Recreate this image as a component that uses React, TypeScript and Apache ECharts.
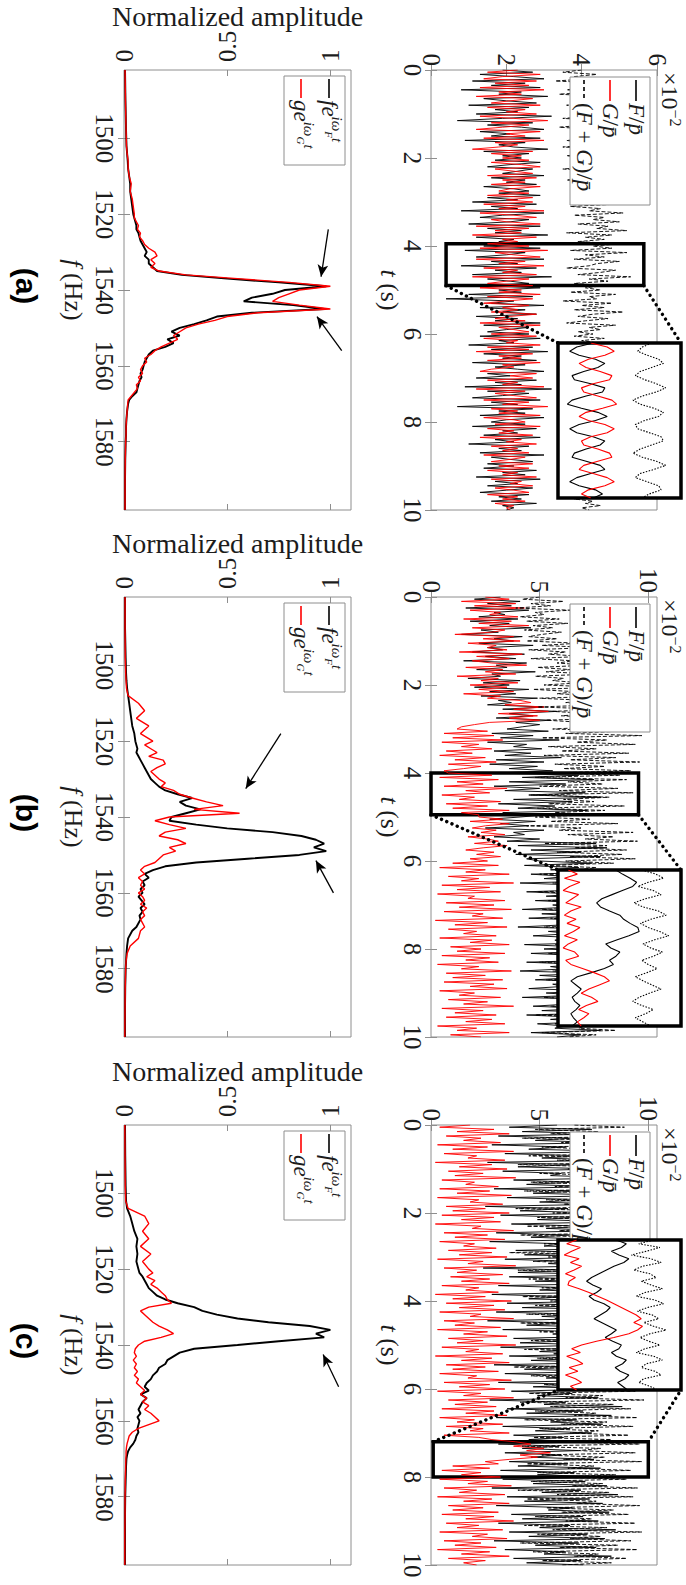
import React, { useEffect, useRef } from "react";
import * as echarts from "echarts";

const SERIF = "'Liberation Serif', 'Times New Roman', serif";
const SANS = "'Liberation Sans', Arial, sans-serif";
const INK = "#1c1c1c";
const BORDER = "#8e8e8e";
const RED = "#ff0000";
const PBAR = "p\u0304";

// ---------- time samples (s)
const TIME = [0,0.05,0.1,0.15,0.2,0.25,0.3,0.35,0.4,0.45,0.5,0.55,0.6,0.65,0.7,0.75,0.8,0.85,0.9,0.95,
1,1.05,1.1,1.15,1.2,1.25,1.3,1.35,1.4,1.45,1.5,1.55,1.6,1.65,1.7,1.75,1.8,1.85,1.9,1.95,
2,2.05,2.1,2.15,2.2,2.25,2.3,2.35,2.4,2.45,2.5,2.55,2.6,2.65,2.7,2.75,2.8,2.85,2.9,2.95,
3,3.05,3.1,3.15,3.2,3.25,3.3,3.35,3.4,3.45,3.5,3.55,3.6,3.65,3.7,3.75,3.8,3.85,3.9,3.95,
4,4.05,4.1,4.15,4.2,4.25,4.3,4.35,4.4,4.45,4.5,4.55,4.6,4.65,4.7,4.75,4.8,4.85,4.9,4.95,
5,5.05,5.1,5.15,5.2,5.25,5.3,5.35,5.4,5.45,5.5,5.55,5.6,5.65,5.7,5.75,5.8,5.85,5.9,5.95,
6,6.05,6.1,6.15,6.2,6.25,6.3,6.35,6.4,6.45,6.5,6.55,6.6,6.65,6.7,6.75,6.8,6.85,6.9,6.95,
7,7.05,7.1,7.15,7.2,7.25,7.3,7.35,7.4,7.45,7.5,7.55,7.6,7.65,7.7,7.75,7.8,7.85,7.9,7.95,
8,8.05,8.1,8.15,8.2,8.25,8.3,8.35,8.4,8.45,8.5,8.55,8.6,8.65,8.7,8.75,8.8,8.85,8.9,8.95,
9,9.05,9.1,9.15,9.2,9.25,9.3,9.35,9.4,9.45,9.5,9.55,9.6,9.65,9.7,9.75,9.8,9.85,9.9,9.95,10];

// ---------- (a) time series, x10^-2
const TS_A_F = [1.9,2.7,1.3,2.2,3.0,1.1,2.5,1.6,2.9,0.8,2.4,1.8,3.1,1.4,2.0,2.8,1.0,2.6,1.7,2.3,
1.2,3.2,1.9,0.7,2.7,1.5,2.4,3.0,1.3,2.1,1.6,2.9,0.9,2.5,1.8,2.2,3.1,1.4,2.6,1.9,
2.4,1.7,2.9,2.1,1.5,2.7,2.3,1.9,3.0,1.6,2.5,2.0,2.8,1.4,2.2,2.6,1.8,2.9,1.5,2.3,
1.1,2.8,1.6,2.3,0.8,3.0,1.9,1.3,2.6,2.1,1.0,2.9,1.5,2.4,1.7,3.1,1.2,2.2,1.8,2.7,
1.4,2.9,0.9,2.5,2.0,1.2,3.0,1.6,2.3,0.8,2.8,1.7,2.4,1.1,3.2,1.5,2.1,2.6,1.3,2.9,
1.8,2.4,1.0,2.7,0.4,2.2,1.6,3.0,1.3,2.5,1.9,2.8,1.2,2.3,1.7,2.9,1.4,2.6,2.0,1.5,
2.6,1.3,2.9,1.8,2.2,1.0,2.7,1.6,3.1,1.4,2.4,1.9,2.8,1.1,2.5,1.7,2.3,3.0,1.5,2.1,
1.2,2.8,1.7,2.4,0.9,3.2,1.5,2.6,1.9,1.1,2.9,1.6,2.3,0.7,2.7,1.8,2.5,1.3,3.0,2.0,
1.6,2.5,1.1,2.8,1.9,2.3,1.4,2.9,1.7,2.2,1.0,2.6,1.8,2.4,1.3,3.0,1.6,2.1,2.7,1.5,
2.2,1.4,2.8,1.9,2.5,1.2,2.9,1.7,2.3,1.5,2.7,2.0,1.3,2.6,1.8,2.4,1.6,2.8,1.9,2.2,2.0];
const TS_A_G = [2.3,1.5,2.9,1.9,1.4,2.8,1.7,2.6,1.3,3.0,1.8,2.4,1.2,2.7,2.1,1.6,2.9,1.5,2.5,2.0,
2.8,1.3,2.2,3.1,1.6,2.6,1.9,1.2,2.9,2.0,2.5,1.4,3.0,1.7,2.3,1.8,1.1,2.7,1.6,2.4,
1.9,2.6,1.6,2.4,2.9,1.7,2.2,2.7,1.5,2.8,1.9,2.5,1.6,2.9,2.1,1.8,2.6,1.5,2.7,2.0,
2.7,1.4,2.5,1.8,3.0,1.3,2.2,2.8,1.6,2.0,2.9,1.2,2.6,1.7,2.4,1.1,2.8,1.9,2.3,1.5,
2.6,1.3,3.1,1.7,2.2,2.9,1.2,2.5,1.8,3.0,1.4,2.3,1.9,2.8,1.1,2.6,2.0,1.5,2.7,1.3,
2.4,1.8,2.9,1.5,2.7,2.0,1.4,2.6,1.9,2.3,1.6,2.8,2.1,1.7,2.5,1.3,2.9,1.8,2.2,2.6,
1.6,2.8,1.4,2.3,2.0,2.9,1.5,2.6,1.2,2.7,1.8,2.4,1.5,2.9,1.9,2.2,1.6,1.3,2.8,2.1,
2.7,1.5,2.3,1.9,3.0,1.2,2.5,1.7,2.2,2.8,1.4,2.6,1.9,3.1,1.6,2.3,1.8,2.9,1.4,2.2,
2.5,1.7,2.9,1.5,2.2,1.8,2.7,1.3,2.4,2.0,2.8,1.6,2.3,1.9,2.6,1.4,2.5,2.1,1.6,2.7,
1.8,2.6,1.5,2.3,1.9,2.8,1.6,2.4,2.1,2.7,1.7,2.2,2.6,1.5,2.3,1.9,2.5,1.7,2.2,2.0,2.1];
const TS_A_S = [4.0,3.5,4.4,3.8,4.2,3.3,4.6,3.9,4.1,3.6,4.3,3.4,4.5,3.7,4.0,4.4,3.6,4.2,3.8,4.5,
3.9,4.3,3.5,4.6,3.8,4.1,3.4,4.4,3.7,4.2,3.9,4.5,3.6,4.0,4.3,3.5,4.7,3.8,4.1,3.6,
4.2,3.7,4.5,3.9,4.3,3.5,4.6,4.0,3.8,4.4,3.6,4.7,4.1,3.9,4.5,3.7,4.8,4.2,3.8,4.6,
4.0,4.9,3.7,4.5,4.2,5.1,3.8,4.6,4.3,5.0,3.9,4.7,4.4,5.2,3.6,4.8,4.1,4.6,3.9,5.0,
4.3,4.8,3.7,5.2,4.1,4.6,3.8,5.0,4.4,4.2,3.6,4.9,4.5,3.9,5.3,4.2,4.7,3.8,4.6,4.1,
4.5,3.7,4.9,4.2,4.4,3.5,4.8,4.0,4.6,3.8,5.1,4.3,3.9,4.7,4.1,3.6,4.9,4.2,4.5,3.9,
4.3,3.8,4.6,4.0,4.4,3.6,4.7,4.1,4.2,3.9,4.8,4.0,4.5,3.7,4.6,4.2,3.9,4.4,4.1,3.8,
4.5,4.0,4.7,3.8,4.3,4.1,4.6,3.7,4.4,4.2,4.8,3.9,4.3,4.0,4.5,3.6,4.6,4.2,4.0,4.4,
3.9,4.6,4.1,4.3,3.7,4.7,4.0,4.5,3.8,4.4,4.2,4.6,3.9,4.1,4.5,3.8,4.7,4.0,4.3,4.1,
4.4,3.9,4.6,4.2,4.0,4.5,3.8,4.3,4.1,4.7,3.9,4.4,4.2,4.0,4.6,3.8,4.3,4.1,4.5,4.0,4.2];

// ---------- (b) time series
const TS_B_F = [3.2,2.0,4.1,2.6,3.7,1.6,4.5,2.9,3.4,2.2,4.0,1.8,3.6,2.7,4.6,2.3,3.1,1.4,4.2,2.9,
3.8,2.2,4.7,2.6,3.3,1.9,4.3,2.5,3.9,1.5,4.4,3.0,3.5,2.1,4.8,2.8,3.2,1.7,4.1,2.4,
3.6,2.0,4.5,2.7,3.9,2.3,4.9,3.1,3.7,2.6,5.2,3.3,5.8,3.6,4.7,3.0,5.5,3.9,5.0,4.2,
3.5,5.4,2.8,4.7,3.2,5.9,2.6,4.4,3.8,5.1,2.9,4.6,3.4,6.0,3.0,5.2,2.7,4.9,3.6,5.6,
3.0,6.8,4.2,7.5,3.6,6.2,2.9,5.0,3.4,7.1,4.5,7.8,3.8,6.5,3.1,5.7,4.0,7.2,3.3,5.3,
4.1,2.7,4.8,3.2,4.5,2.5,5.2,3.8,4.3,2.9,5.0,3.5,7.6,4.0,8.1,4.6,6.9,3.9,7.8,4.4,
5.0,7.4,4.3,6.8,5.5,7.9,4.6,6.3,5.2,8.0,4.1,6.9,5.8,7.5,4.4,6.6,5.3,8.2,4.8,7.1,
5.6,6.4,4.2,7.7,5.1,6.7,4.5,7.3,5.9,6.2,4.0,7.8,5.4,6.5,4.7,7.2,5.7,8.1,4.3,6.8,
5.2,7.6,4.6,6.9,5.8,8.0,4.4,7.0,5.5,6.3,4.1,7.5,5.0,6.6,4.8,7.9,5.6,6.1,4.5,7.3,
5.3,6.8,4.2,7.7,5.9,6.4,4.7,7.1,5.1,8.2,4.4,6.7,5.5,7.4,4.9,6.2,5.7,7.8,4.6,6.9,5.8];
const TS_B_G = [2.5,3.6,1.4,3.9,2.0,4.3,1.8,3.2,2.7,4.0,1.5,3.7,2.2,4.5,1.9,3.4,2.8,1.1,3.8,2.4,
4.1,1.7,3.0,2.6,3.5,1.3,4.2,2.1,3.6,1.9,2.8,4.4,1.6,3.3,2.5,3.9,1.2,3.1,2.3,4.0,
1.8,3.5,2.2,3.8,1.5,3.2,2.6,4.1,4.6,3.4,5.2,3.8,5.4,3.1,4.9,3.6,5.0,2.7,2.0,1.4,
1.2,2.6,0.6,2.9,1.0,3.3,0.5,2.2,1.4,2.8,0.7,1.9,0.4,2.5,1.1,3.0,0.8,2.3,1.5,0.6,
0.8,2.8,0.4,3.1,1.2,2.4,0.6,3.5,1.6,2.7,0.5,2.0,1.3,3.2,0.7,2.6,1.0,3.6,1.4,2.2,
2.2,3.3,1.8,3.6,2.5,1.9,3.0,2.3,3.4,1.7,2.6,3.1,2.0,3.5,2.4,1.6,2.9,2.1,3.2,1.8,
2.6,1.0,3.1,0.4,2.5,1.6,3.6,0.8,2.2,1.4,3.8,0.5,2.7,1.2,3.2,0.3,2.0,1.7,3.4,0.7,
2.9,1.3,3.7,0.6,2.4,1.9,3.3,0.2,2.6,1.1,3.5,0.8,2.1,1.5,3.0,0.4,2.8,1.8,3.6,0.9,
2.3,1.2,3.4,0.5,2.7,1.6,3.1,0.3,2.2,1.4,3.7,0.7,2.5,1.0,3.3,0.6,2.9,1.8,3.5,0.4,
2.0,1.3,3.2,0.8,2.6,1.5,3.8,0.5,2.4,1.1,3.0,0.7,2.8,1.6,3.4,0.3,2.1,1.2,3.6,0.9,2.3];
const TS_B_S = [5.0,4.2,6.1,4.6,5.5,3.9,6.4,4.8,5.2,4.1,5.9,4.4,6.3,4.7,5.6,4.3,6.0,5.1,4.5,5.8,
4.4,6.8,5.1,7.4,4.5,6.2,5.4,7.0,4.6,6.6,5.8,7.2,4.9,6.4,5.3,7.5,4.8,6.1,5.6,6.9,
5.2,7.9,4.7,6.6,5.8,8.3,5.0,7.1,6.2,7.8,4.9,8.1,5.6,7.4,6.0,8.5,5.3,7.0,6.4,7.7,
5.6,8.8,6.2,9.7,5.1,8.1,6.7,9.4,5.4,7.6,6.0,9.1,5.2,8.5,6.4,9.6,5.7,8.0,6.1,9.2,
5.5,8.7,4.8,9.0,6.3,7.9,5.0,8.6,5.9,9.3,4.6,8.2,6.1,7.5,5.4,8.9,4.9,8.0,5.7,7.4,
4.8,7.3,5.5,8.6,4.4,6.9,5.9,9.3,6.3,8.4,7.1,9.5,5.2,8.1,6.6,9.0,5.8,8.8,6.4,9.4,
6.2,8.4,5.3,7.6,6.8,8.9,5.0,7.2,6.5,8.7,5.6,7.9,6.1,8.5,4.9,7.4,6.6,9.0,5.4,7.8,
6.3,8.2,5.1,7.5,6.9,8.8,5.5,7.1,6.0,8.6,5.2,7.7,6.4,8.3,5.8,7.3,6.7,8.9,5.7,7.0,
6.5,8.5,5.4,7.8,6.1,9.1,5.0,7.4,6.8,8.2,5.6,7.6,6.3,8.7,5.3,7.2,6.9,8.4,5.9,7.5,
6.0,8.8,5.2,7.3,6.6,8.6,5.5,7.9,6.2,9.0,4.8,7.7,6.4,8.3,5.7,7.1,6.8,8.5,5.1,7.6,6.3];

// ---------- (c) time series
const TS_C_F = [5.8,3.6,7.4,4.2,8.1,3.1,6.5,4.8,7.9,2.8,6.2,4.5,8.6,3.4,7.0,5.1,8.3,2.6,6.8,4.0,
7.7,3.3,6.0,5.5,8.8,3.8,6.6,4.4,7.5,2.9,6.9,4.7,8.4,3.5,7.2,5.0,8.0,2.5,6.3,4.1,
7.8,3.2,6.7,4.9,8.5,3.7,7.1,5.3,8.2,3.0,6.4,4.6,7.6,2.7,6.1,5.2,8.7,3.9,7.3,4.3,
8.0,3.4,6.6,5.4,7.9,2.4,6.9,4.0,8.3,3.6,7.0,4.8,8.9,3.1,6.5,5.0,7.7,2.8,6.2,4.5,
8.1,3.5,7.4,4.2,8.6,3.0,6.8,5.1,7.5,2.6,6.3,4.4,8.0,3.3,7.2,5.6,8.4,3.8,6.7,4.1,
7.6,3.2,6.4,5.0,8.7,3.6,7.1,4.6,8.2,2.9,6.6,4.3,7.8,3.4,6.9,5.3,8.5,3.1,7.3,4.7,
8.0,3.7,6.5,4.9,7.7,2.7,6.2,5.2,8.8,3.5,7.0,4.4,8.3,3.0,6.7,5.5,7.9,3.3,6.4,4.8,
7.4,3.8,6.1,4.5,7.2,3.1,5.9,4.2,6.8,3.4,6.0,4.6,7.5,3.6,6.3,4.0,7.8,3.2,6.6,4.9,
8.4,3.3,7.1,4.7,8.1,2.8,6.9,5.1,8.6,3.5,7.3,4.3,7.9,3.0,6.5,5.4,8.2,3.7,7.0,4.2,
7.7,3.1,6.4,5.0,8.5,3.6,7.2,4.5,8.0,2.9,6.8,4.8,7.6,3.4,6.2,5.2,8.3,3.8,6.9,4.4,7.0];
const TS_C_G = [1.8,0.4,2.9,1.2,3.6,0.7,2.3,1.5,3.2,0.3,2.6,1.0,3.8,0.6,2.1,1.7,3.4,0.2,2.8,1.3,
3.5,0.8,2.4,1.1,3.9,0.5,2.0,1.6,3.1,0.4,2.7,1.2,3.7,0.3,2.2,1.8,3.3,0.7,2.5,1.0,
3.6,0.5,2.9,1.4,3.2,0.2,2.3,1.9,3.8,0.6,2.6,1.1,3.4,0.4,2.0,1.5,3.0,0.8,2.8,1.3,
3.5,0.3,2.4,1.7,3.9,0.6,2.1,1.2,3.3,0.9,2.7,1.4,3.6,0.5,2.2,1.6,3.1,0.2,2.5,1.0,
3.7,0.7,2.9,1.3,3.4,0.4,2.3,1.8,3.8,0.6,2.0,1.1,3.2,0.3,2.6,1.5,3.5,0.8,2.4,1.2,
3.9,0.5,2.2,1.6,3.3,0.2,2.8,1.4,3.6,0.7,2.5,1.0,3.1,0.4,2.1,1.7,3.7,0.6,2.7,1.3,
3.4,0.3,2.3,1.5,3.8,0.8,2.6,1.1,3.0,0.5,2.9,1.6,3.5,0.4,2.0,1.2,3.3,0.7,2.4,1.8,
3.6,0.6,2.2,2.8,3.9,4.6,3.8,5.2,4.4,5.5,4.1,4.9,3.6,2.5,3.1,1.0,2.7,0.5,2.3,1.4,
3.2,0.4,2.6,1.7,3.7,0.6,2.1,1.3,3.4,0.3,2.8,1.5,3.6,0.8,2.4,1.0,3.1,0.5,2.9,1.6,
3.8,0.7,2.2,1.2,3.3,0.4,2.6,1.9,3.5,0.6,2.3,1.1,3.0,0.3,2.7,1.4,3.6,0.8,2.5,1.5,2.1];
const TS_C_S = [6.6,8.9,4.8,7.7,5.5,9.4,4.2,8.1,6.0,9.7,5.1,7.4,6.8,9.0,4.5,8.5,5.8,9.6,4.0,7.9,
6.3,9.2,5.0,8.3,6.9,9.8,4.6,7.6,5.7,9.3,4.3,8.0,6.5,9.5,5.3,7.8,6.1,9.1,3.9,8.6,
5.6,9.4,4.9,7.5,6.7,9.7,4.4,8.2,5.9,9.0,4.1,7.7,6.4,9.6,5.2,8.4,6.2,9.2,3.6,7.3,
5.4,9.5,4.7,8.0,6.6,9.8,4.0,7.6,5.8,9.1,4.5,8.7,6.0,9.4,5.1,7.9,6.8,9.3,4.2,8.1,
5.5,9.0,4.8,7.4,6.3,9.6,4.4,8.5,5.7,9.2,4.1,7.8,6.5,9.4,5.0,8.3,6.1,8.8,4.6,7.5,
6.0,9.3,4.3,8.2,5.6,9.7,4.9,7.7,6.4,9.1,3.8,8.0,5.9,9.5,4.6,7.3,6.7,9.0,5.2,8.6,
5.8,9.4,4.5,7.9,6.2,9.8,4.1,8.4,5.5,9.2,4.8,7.6,6.6,9.5,4.3,8.1,6.0,9.3,5.0,7.7,
6.4,9.1,4.7,8.3,5.9,9.6,4.2,7.8,6.8,9.4,5.1,8.0,6.1,9.7,4.4,7.5,6.3,9.2,4.9,8.5,
5.7,9.0,4.6,7.9,6.5,9.5,4.0,8.2,5.8,9.3,4.4,7.6,6.7,9.6,5.3,8.4,6.0,9.1,4.8,7.4,
6.2,9.4,4.3,8.1,5.6,9.7,4.9,7.8,6.4,9.2,4.1,8.6,5.9,9.5,4.7,7.7,6.6,9.0,5.1,8.3,6.0];

// ---------- zoomed insets
const INSET_T_A = [3.95,3.975,4,4.025,4.05,4.075,4.1,4.125,4.15,4.175,4.2,4.225,4.25,4.275,4.3,4.325,4.35,4.375,4.4,4.425,4.45,4.475,4.5,4.525,4.55,4.575,4.6,4.625,4.65,4.675,4.7,4.725,4.75,4.775,4.8,4.825,4.85,4.875,4.9];
const IN_A_F = [1.9,1.2,0.9,1.3,2.0,2.4,2.1,1.5,1.0,1.1,1.8,2.4,2.3,1.6,1.0,0.8,1.4,2.1,2.5,2.0,1.3,0.9,1.2,1.9,2.4,2.2,1.6,1.1,1.0,1.6,2.2,2.4,1.8,1.2,0.9,1.3,2.0,2.3,1.9];
const IN_A_G = [1.8,2.5,2.8,2.4,1.7,1.3,1.6,2.2,2.7,2.6,1.9,1.4,1.5,2.1,2.7,2.9,2.3,1.6,1.3,1.7,2.4,2.8,2.5,1.8,1.4,1.5,2.1,2.6,2.7,2.1,1.5,1.3,1.9,2.5,2.8,2.4,1.7,1.4,1.8];
const IN_A_S = [4.4,4.0,3.8,4.2,4.7,4.9,4.4,3.9,3.7,4.1,4.6,5.0,4.6,4.0,3.6,3.9,4.5,4.9,4.7,4.1,3.7,3.8,4.3,4.8,4.9,4.4,3.9,3.6,4.0,4.6,5.0,4.5,3.9,3.7,4.2,4.7,4.8,4.3,4.0];

const INSET_T_B = [4,4.025,4.05,4.075,4.1,4.125,4.15,4.175,4.2,4.225,4.25,4.275,4.3,4.325,4.35,4.375,4.4,4.425,4.45,4.475,4.5,4.525,4.55,4.575,4.6,4.625,4.65,4.675,4.7,4.725,4.75,4.775,4.8,4.825,4.85,4.875,4.9,4.925,4.95];
const IN_B_F = [4.5,5.0,5.6,6.1,5.8,5.0,4.2,3.4,3.0,3.3,4.0,4.8,5.1,5.6,6.2,6.3,5.5,4.6,3.7,4.1,4.8,4.5,4.0,4.3,3.6,2.6,1.5,1.0,1.4,1.8,1.5,1.1,1.3,1.7,1.4,1.0,1.2,1.5,1.1];
const IN_B_G = [0.8,1.5,0.5,1.7,0.9,0.4,1.6,1.1,0.6,1.8,1.0,0.5,1.4,0.7,1.7,1.2,0.5,1.5,0.8,0.4,1.3,1.6,0.6,1.0,1.9,2.8,3.6,4.0,3.2,2.4,1.8,2.6,3.1,2.2,1.6,2.4,2.0,1.5,1.8];
const IN_B_S = [6.5,7.6,8.2,7.0,6.2,7.4,8.0,6.8,5.9,6.6,7.8,8.4,7.2,6.4,7.0,7.9,8.6,7.5,6.6,7.2,8.1,7.4,6.5,7.0,7.7,6.9,6.0,6.6,7.3,8.0,7.1,6.3,5.8,6.5,7.4,6.8,6.0,6.6,7.2];

const INSET_T_C = [7.2,7.22,7.24,7.26,7.28,7.3,7.32,7.34,7.36,7.38,7.4,7.42,7.44,7.46,7.48,7.5,7.52,7.54,7.56,7.58,7.6,7.62,7.64,7.66,7.68,7.7,7.72,7.74,7.76,7.78,7.8,7.82,7.84,7.86,7.88,7.9,7.92,7.94,7.96,7.98,8];
const IN_C_F = [4.8,5.6,5.2,4.4,5.0,5.8,5.4,4.6,4.0,3.4,2.8,2.4,2.9,3.6,3.2,2.6,3.0,3.8,4.3,4.0,3.5,3.0,3.6,4.2,4.8,4.4,3.9,4.5,5.2,5.0,4.4,4.8,5.6,5.3,4.7,5.1,5.8,5.5,4.9,5.3,5.7];
const IN_C_G = [1.6,0.8,1.9,1.2,0.6,1.8,1.1,2.0,1.4,0.7,1.5,1.0,0.9,1.8,2.6,3.3,4.0,4.6,5.2,5.8,6.4,6.8,6.2,6.9,6.5,5.8,4.6,3.2,2.0,1.2,1.9,0.8,1.6,2.1,1.0,1.7,0.7,1.5,2.0,1.1,1.6];
const IN_C_S = [7.8,6.6,8.3,7.2,6.0,7.6,8.4,6.9,6.2,7.5,8.0,6.8,7.6,8.5,7.1,6.4,7.9,8.6,7.3,6.5,7.7,8.2,7.0,7.8,8.8,7.5,6.7,7.4,8.3,7.1,6.4,7.8,8.5,7.2,6.8,7.9,8.4,7.0,6.6,7.5,8.1];

// ---------- spectra (Hz, normalized amplitude)
const FREQ = [1482,1490,1498,1502,1504,1506,1508,1510,1512,1514,1516,1518,1520,1521,1522,1523,1524,1525,1526,1527,1528,1529,1530,1531,1532,1533,1534,1535,1536,1537,1538,1539,1540,1541,1542,1543,1544,1545,1546,1547,1548,1549,1550,1551,1552,1553,1554,1555,1556,1557,1558,1559,1560,1561,1562,1563,1564,1565,1566,1567,1568,1569,1570,1572,1574,1576,1578,1580,1585,1590,1598];
const SP_A_F = [0.005,0.007,0.01,0.012,0.015,0.018,0.02,0.025,0.03,0.03,0.035,0.04,0.045,0.05,0.055,0.06,0.06,0.07,0.075,0.08,0.09,0.1,0.11,0.1,0.12,0.12,0.14,0.16,0.28,0.5,0.75,0.98,0.78,0.72,0.62,0.58,0.82,0.97,0.62,0.45,0.4,0.34,0.27,0.23,0.27,0.21,0.24,0.2,0.14,0.12,0.11,0.1,0.095,0.09,0.08,0.085,0.075,0.07,0.065,0.06,0.04,0.025,0.02,0.015,0.012,0.01,0.01,0.008,0.006,0.005,0.005];
const SP_A_G = [0.005,0.007,0.01,0.012,0.015,0.02,0.02,0.025,0.035,0.03,0.04,0.045,0.05,0.05,0.06,0.07,0.065,0.08,0.075,0.09,0.1,0.12,0.15,0.16,0.13,0.15,0.13,0.17,0.3,0.55,0.8,1.0,0.85,0.8,0.75,0.72,0.85,1.0,0.65,0.5,0.44,0.36,0.3,0.27,0.24,0.26,0.22,0.18,0.15,0.13,0.1,0.11,0.09,0.08,0.09,0.07,0.08,0.06,0.065,0.05,0.035,0.02,0.018,0.015,0.012,0.01,0.01,0.008,0.006,0.005,0.005];
const SP_B_F = [0.005,0.005,0.008,0.01,0.012,0.015,0.02,0.025,0.03,0.035,0.04,0.05,0.055,0.06,0.065,0.06,0.07,0.08,0.09,0.1,0.11,0.12,0.13,0.15,0.17,0.2,0.26,0.33,0.27,0.3,0.37,0.3,0.23,0.22,0.35,0.5,0.72,0.86,0.93,0.97,0.92,0.98,0.85,0.6,0.35,0.2,0.14,0.1,0.12,0.09,0.1,0.08,0.09,0.07,0.085,0.1,0.08,0.09,0.075,0.08,0.07,0.06,0.04,0.02,0.015,0.012,0.01,0.008,0.006,0.005,0.005];
const SP_B_G = [0.005,0.005,0.006,0.008,0.01,0.012,0.02,0.07,0.1,0.06,0.12,0.08,0.14,0.1,0.13,0.16,0.12,0.19,0.2,0.16,0.13,0.15,0.17,0.2,0.18,0.24,0.27,0.33,0.4,0.48,0.34,0.56,0.22,0.15,0.22,0.3,0.2,0.17,0.26,0.3,0.22,0.25,0.19,0.17,0.15,0.1,0.08,0.1,0.07,0.09,0.08,0.1,0.07,0.09,0.1,0.08,0.11,0.09,0.1,0.08,0.09,0.1,0.08,0.07,0.03,0.015,0.01,0.008,0.006,0.005,0.004];
const SP_C_F = [0.005,0.006,0.008,0.01,0.015,0.03,0.04,0.05,0.065,0.06,0.065,0.06,0.07,0.075,0.09,0.1,0.11,0.12,0.14,0.16,0.2,0.26,0.34,0.38,0.45,0.55,0.7,0.9,1.0,0.93,0.97,0.75,0.55,0.34,0.27,0.24,0.21,0.2,0.17,0.16,0.14,0.13,0.11,0.1,0.12,0.08,0.11,0.09,0.08,0.07,0.08,0.065,0.075,0.07,0.065,0.07,0.06,0.055,0.045,0.03,0.02,0.015,0.012,0.01,0.009,0.008,0.007,0.006,0.005,0.005,0.005];
const SP_C_G = [0.004,0.005,0.006,0.008,0.02,0.1,0.12,0.09,0.12,0.08,0.13,0.09,0.12,0.14,0.11,0.15,0.13,0.16,0.18,0.2,0.21,0.23,0.12,0.08,0.1,0.12,0.14,0.17,0.21,0.24,0.18,0.1,0.07,0.055,0.05,0.06,0.045,0.06,0.05,0.065,0.05,0.07,0.06,0.08,0.1,0.08,0.11,0.09,0.12,0.1,0.13,0.15,0.17,0.12,0.07,0.04,0.025,0.02,0.015,0.012,0.01,0.01,0.009,0.008,0.007,0.006,0.006,0.005,0.005,0.004,0.004];

// arrows: [[amp, freq] start, [amp, freq] end]
const ARROWS_A = [[[0.99, 1524], [0.955, 1536.5]], [[1.055, 1556], [0.935, 1547]]];
const ARROWS_B = [[[0.76, 1518], [0.59, 1532.5]], [[1.015, 1560], [0.93, 1551.5]]];
const ARROWS_C = [[[1.04, 1551], [0.965, 1542.5]]];

// ticks
const AMP_TICKS = [0, 0.5, 1];
const FREQ_TICKS = [1500, 1520, 1540, 1560, 1580];
const T_TICKS = [0, 2, 4, 6, 8, 10];
const VAL_TICKS_A = [0, 2, 4, 6];
const VAL_TICKS_BC = [0, 5, 10];

// ---------- layout
const COL_TOP = [70, 597, 1125];
const BOX_H = 440;
const SPEC = { left: 124, width: 227 };
const TBOX = { left: 431, width: 226 };
const INSET = { left: 558, width: 123 };
const INSET_TOPS = [343, 870, 1240];
const INSET_HS = [155, 156, 150];

const PANELS = [
  { label: "(a)", vmax: 6, vticks: VAL_TICKS_A, F: TS_A_F, G: TS_A_G, S: TS_A_S, sF: SP_A_F, sG: SP_A_G, arrows: ARROWS_A, rx: [0.4, 5.65], rt: [3.95, 4.9], it: INSET_T_A, iF: IN_A_F, iG: IN_A_G, iS: IN_A_S, above: false },
  { label: "(b)", vmax: 10.4, vticks: VAL_TICKS_BC, F: TS_B_F, G: TS_B_G, S: TS_B_S, sF: SP_B_F, sG: SP_B_G, arrows: ARROWS_B, rx: [0, 9.55], rt: [4.0, 4.95], it: INSET_T_B, iF: IN_B_F, iG: IN_B_G, iS: IN_B_S, above: false },
  { label: "(c)", vmax: 10.4, vticks: VAL_TICKS_BC, F: TS_C_F, G: TS_C_G, S: TS_C_S, sF: SP_C_F, sG: SP_C_G, arrows: ARROWS_C, rx: [0.1, 10.0], rt: [7.2, 8.0], it: INSET_T_C, iF: IN_C_F, iG: IN_C_G, iS: IN_C_S, above: true },
];

const plain = (v: number) => String(v);
const labelBase = { fontFamily: SERIF, fontSize: 25, color: INK };
const tickStyle = (vals: number[]) => ({ show: true, inside: true, length: 6, customValues: vals, lineStyle: { color: BORDER, width: 1 } });
const mirrorAxis = (g: number, pos: string, min: number, max: number, vals: number[], inverse = false) => ({
  gridIndex: g, type: "value", position: pos, min, max, inverse,
  axisLine: { show: false }, splitLine: { show: false }, axisLabel: { show: false }, axisTick: tickStyle(vals),
});

function timeLegend(px: number, py: number) {
  const Lw = 128, Lh = 80;
  const rows = [
    { ly: 14, color: "#000", dash: null as any, text: `{i|F}/{i|${PBAR}}` },
    { ly: 40, color: RED, dash: null as any, text: `{i|G}/{i|${PBAR}}` },
    { ly: 66, color: "#000", dash: [4, 3], text: `({i|F} + {i|G})/{i|${PBAR}}` },
  ];
  const rich = { i: { fontFamily: SERIF, fontStyle: "italic", fontSize: 23, fill: INK } };
  return {
    type: "group", x: px, y: py, rotation: -Math.PI / 2,
    children: [
      { type: "rect", z: 4, shape: { x: 0, y: 0, width: Lw, height: Lh }, style: { fill: "#fff", stroke: BORDER, lineWidth: 1 } },
      ...rows.flatMap((r) => [
        { type: "line", z: 4, shape: { x1: 3, y1: r.ly, x2: 24, y2: r.ly }, style: { stroke: r.color, lineWidth: 1.6, lineDash: r.dash } },
        { type: "text", z: 4, x: 26, y: r.ly, style: { text: r.text, fontFamily: SERIF, fontSize: 23, fill: INK, align: "left", verticalAlign: "middle", textAlign: "left", textVerticalAlign: "middle", rich } },
      ]),
    ],
  };
}

function specLegend(px: number, py: number) {
  const Lw = 89, Lh = 61;
  const rich = {
    b: { fontFamily: SERIF, fontStyle: "italic", fontSize: 23, lineHeight: 30, fill: INK },
    s: { fontFamily: SERIF, fontStyle: "italic", fontSize: 15, lineHeight: 15, verticalAlign: "top", fill: INK },
    ss: { fontFamily: SERIF, fontStyle: "italic", fontSize: 11, lineHeight: 11, verticalAlign: "middle", fill: INK },
  };
  const rows = [
    { ly: 16, color: "#000", text: "{b|fe}{s|iω}{ss|F}{s|t}" },
    { ly: 44, color: RED, text: "{b|ge}{s|iω}{ss|G}{s|t}" },
  ];
  return {
    type: "group", x: px, y: py, rotation: -Math.PI / 2,
    children: [
      { type: "rect", z: 4, shape: { x: 0, y: 0, width: Lw, height: Lh }, style: { fill: "#fff", stroke: BORDER, lineWidth: 1 } },
      ...rows.flatMap((r) => [
        { type: "line", z: 4, shape: { x1: 3, y1: r.ly, x2: 22, y2: r.ly }, style: { stroke: r.color, lineWidth: 1.6 } },
        { type: "text", z: 4, x: 24, y: r.ly, style: { text: r.text, fontFamily: SERIF, fontSize: 23, fill: INK, align: "left", verticalAlign: "middle", textAlign: "left", textVerticalAlign: "middle", rich } },
      ]),
    ],
  };
}

function buildOption() {
  const grid: any[] = [], xAxis: any[] = [], yAxis: any[] = [], series: any[] = [], graphic: any[] = [];
  const timeAxes: number[][] = [];

  PANELS.forEach((p, i) => {
    const top = COL_TOP[i];

    // ---- spectrum
    const gS = grid.length;
    grid.push({ left: SPEC.left, top, width: SPEC.width, height: BOX_H, show: true, borderColor: BORDER, borderWidth: 1, backgroundColor: "#fff" });
    const xS = xAxis.length;
    xAxis.push({
      gridIndex: gS, type: "value", position: "top", min: 0, max: 1.1,
      name: "Normalized amplitude", nameLocation: "middle", nameGap: 40, nameMoveOverlap: false,
      nameTextStyle: { fontFamily: SERIF, fontSize: 28, color: INK },
      axisLine: { show: false }, splitLine: { show: false }, axisTick: tickStyle(AMP_TICKS),
      axisLabel: { ...labelBase, customValues: AMP_TICKS, rotate: -90, margin: 8, hideOverlap: false, formatter: plain },
    });
    xAxis.push(mirrorAxis(gS, "bottom", 0, 1.1, AMP_TICKS));
    const yS = yAxis.length;
    yAxis.push({
      gridIndex: gS, type: "value", position: "left", inverse: true, min: 1482, max: 1598,
      name: "{i|f} (Hz)", nameLocation: "middle", nameRotate: -90, nameGap: 38, nameMoveOverlap: false,
      nameTextStyle: { fontFamily: SERIF, fontSize: 26, color: INK, rich: { i: { fontFamily: SERIF, fontStyle: "italic", fontSize: 26, color: INK } } },
      axisLine: { show: false }, splitLine: { show: false }, axisTick: tickStyle(FREQ_TICKS),
      axisLabel: { ...labelBase, customValues: FREQ_TICKS, rotate: -90, margin: 7, hideOverlap: false, formatter: plain },
    });
    yAxis.push(mirrorAxis(gS, "right", 1482, 1598, FREQ_TICKS, true));
    series.push({
      type: "line", xAxisIndex: xS, yAxisIndex: yS, symbol: "none", z: 3,
      data: p.sF.map((a, k) => [a, FREQ[k]]), lineStyle: { color: "#000", width: 1.9 },
      markLine: {
        silent: true, symbol: ["none", "arrow"], symbolSize: [8, 12], label: { show: false },
        lineStyle: { color: "#000", width: 1.3, type: "solid" }, emphasis: { disabled: true },
        data: p.arrows.map(([s, e]) => [{ coord: s }, { coord: e }]),
      },
    });
    series.push({
      type: "line", xAxisIndex: xS, yAxisIndex: yS, symbol: "none", z: 3,
      data: p.sG.map((a, k) => [a, FREQ[k]]), lineStyle: { color: RED, width: 1.4 },
    });

    // ---- time series
    const gT = grid.length;
    grid.push({ left: TBOX.left, top, width: TBOX.width, height: BOX_H, show: true, borderColor: BORDER, borderWidth: 1, backgroundColor: "#fff" });
    const xT = xAxis.length;
    xAxis.push({
      gridIndex: gT, type: "value", position: "top", min: 0, max: p.vmax,
      axisLine: { show: false }, splitLine: { show: false }, axisTick: tickStyle(p.vticks),
      axisLabel: { ...labelBase, customValues: p.vticks, rotate: -90, margin: 4, hideOverlap: false, formatter: plain },
    });
    xAxis.push(mirrorAxis(gT, "bottom", 0, p.vmax, p.vticks));
    const yT = yAxis.length;
    yAxis.push({
      gridIndex: gT, type: "value", position: "left", inverse: true, min: 0, max: 10,
      name: "{i|t} (s)", nameLocation: "middle", nameRotate: -90, nameGap: 29, nameMoveOverlap: false,
      nameTextStyle: { fontFamily: SERIF, fontSize: 26, color: INK, rich: { i: { fontFamily: SERIF, fontStyle: "italic", fontSize: 26, color: INK } } },
      axisLine: { show: false }, splitLine: { show: false }, axisTick: tickStyle(T_TICKS),
      axisLabel: { ...labelBase, customValues: T_TICKS, rotate: -90, margin: 6, hideOverlap: false, formatter: plain },
    });
    yAxis.push(mirrorAxis(gT, "right", 0, 10, T_TICKS, true));
    timeAxes.push([xT, yT]);
    series.push({ type: "line", xAxisIndex: xT, yAxisIndex: yT, symbol: "none", z: 2, data: TIME.map((t, k) => [p.F[k], t]), lineStyle: { color: "#000", width: 0.9 } });
    series.push({ type: "line", xAxisIndex: xT, yAxisIndex: yT, symbol: "none", z: 2, data: TIME.map((t, k) => [p.G[k], t]), lineStyle: { color: RED, width: 0.9 } });
    series.push({
      type: "line", xAxisIndex: xT, yAxisIndex: yT, symbol: "none", z: 2,
      data: TIME.map((t, k) => [p.S[k], t]), lineStyle: { color: "#000", width: 0.9, type: [4, 2] },
      markArea: {
        silent: true, label: { show: false }, emphasis: { disabled: true },
        itemStyle: { color: "rgba(0,0,0,0)", borderColor: "#000", borderWidth: 3.5 },
        data: [[{ coord: [p.rx[0], p.rt[0]] }, { coord: [p.rx[1], p.rt[1]] }]],
      },
    });

    // ---- inset
    const gI = grid.length;
    grid.push({ left: INSET.left, top: INSET_TOPS[i], width: INSET.width, height: INSET_HS[i], show: true, backgroundColor: "#fff", borderColor: "#000", borderWidth: 3.5, z: 5 });
    const xI = xAxis.length;
    xAxis.push({ gridIndex: gI, type: "value", min: p.rx[0], max: p.rx[1], show: false });
    const yI = yAxis.length;
    yAxis.push({ gridIndex: gI, type: "value", min: p.rt[0], max: p.rt[1], inverse: true, show: false });
    series.push({ type: "line", xAxisIndex: xI, yAxisIndex: yI, symbol: "none", z: 6, data: p.it.map((t, k) => [p.iF[k], t]), lineStyle: { color: "#000", width: 1.1 } });
    series.push({ type: "line", xAxisIndex: xI, yAxisIndex: yI, symbol: "none", z: 6, data: p.it.map((t, k) => [p.iG[k], t]), lineStyle: { color: RED, width: 1.1 } });
    series.push({ type: "line", xAxisIndex: xI, yAxisIndex: yI, symbol: "none", z: 6, data: p.it.map((t, k) => [p.iS[k], t]), lineStyle: { color: "#000", width: 1.1, type: [1.5, 1.5] } });

    // ---- decorations
    graphic.push({
      type: "text", x: 26, y: top + 216, rotation: -Math.PI / 2, z: 10,
      style: { text: p.label, fontFamily: SANS, fontWeight: "bold", fontSize: 30, fill: "#000", align: "center", verticalAlign: "middle", textAlign: "center", textVerticalAlign: "middle" },
    });
    graphic.push({
      type: "text", x: 670, y: top + 2, rotation: -Math.PI / 2, z: 10,
      style: {
        text: "×10{s|−2}", fontFamily: SERIF, fontSize: 24, lineHeight: 26, fill: INK,
        align: "left", verticalAlign: "middle", textAlign: "left", textVerticalAlign: "middle",
        rich: { s: { fontFamily: SERIF, fontSize: 16, lineHeight: 16, verticalAlign: "top", fill: INK } },
      },
    });
    graphic.push(timeLegend(TBOX.left + TBOX.width - 7, top + 7));
    graphic.push(specLegend(SPEC.left + SPEC.width - 6, top + 6));
  });

  const option: any = {
    animation: false,
    backgroundColor: "#fff",
    textStyle: { fontFamily: SERIF },
    grid, xAxis, yAxis, series, graphic,
  };
  return { option, timeAxes };
}

export default function App() {
  const ref = useRef<HTMLDivElement>(null);
  useEffect(() => {
    if (!ref.current) return;
    const chart = echarts.init(ref.current, null, { renderer: "svg" });
    const { option, timeAxes } = buildOption();
    chart.setOption(option);
    const conn: any[] = [];
    PANELS.forEach((p, i) => {
      const [xa, ya] = timeAxes[i];
      const tEdge = p.above ? p.rt[0] : p.rt[1];
      const a = chart.convertToPixel({ xAxisIndex: xa, yAxisIndex: ya } as any, [p.rx[0], tEdge]) as number[];
      const b = chart.convertToPixel({ xAxisIndex: xa, yAxisIndex: ya } as any, [p.rx[1], tEdge]) as number[];
      const iy = p.above ? INSET_TOPS[i] + INSET_HS[i] : INSET_TOPS[i];
      const dot = { stroke: "#000", lineWidth: 3.4, lineDash: [0.1, 5.6], lineCap: "round" };
      conn.push({ type: "line", z: 8, silent: true, shape: { x1: a[0], y1: a[1], x2: INSET.left, y2: iy }, style: dot });
      conn.push({ type: "line", z: 8, silent: true, shape: { x1: b[0], y1: b[1], x2: INSET.left + INSET.width, y2: iy }, style: dot });
    });
    chart.setOption({ ...option, graphic: [...option.graphic, ...conn] }, true);
    return () => chart.dispose();
  }, []);
  return <div ref={ref} style={{ position: "absolute", left: 0, top: 0, width: 686, height: 1585, background: "#fff" }} />;
}
